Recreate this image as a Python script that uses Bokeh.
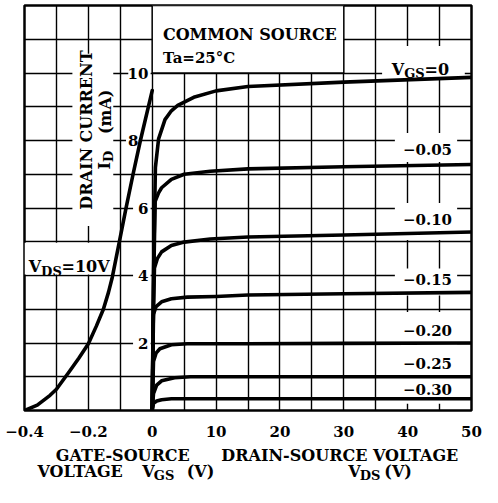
import numpy as np
from bokeh.plotting import figure
from bokeh.layouts import column
from bokeh.models import Label, FixedTicker, Range1d
from bokeh.embed import file_html
from bokeh.resources import INLINE

# ---------------- data ----------------
# transfer characteristic, VDS = 10 V
vgs_transfer = [-0.40, -0.36, -0.32, -0.30, -0.26, -0.23, -0.20, -0.175, -0.153,
                -0.137, -0.125, -0.105, -0.083, -0.06, -0.037, 0.0]
id_transfer = [0.0, 0.16, 0.45, 0.63, 1.15, 1.55, 1.98, 2.5, 3.0,
               3.5, 3.95, 4.9, 5.95, 7.0, 8.0, 9.48]

# output characteristics (VDS in V, ID in mA)
vds_0 = [0, 0.2, 0.5, 1.0, 2.0, 3.0, 4.0, 6.5, 10, 15, 30, 50]
id_0 = [0, 4.0, 7.2, 8.05, 8.62, 8.88, 9.04, 9.28, 9.47, 9.6, 9.73, 9.87]
vds_005 = [0, 0.2, 0.46, 1.0, 1.47, 3.0, 5.0, 9.1, 15, 30, 50]
id_005 = [0, 3.5, 6.2, 6.45, 6.6, 6.85, 7.0, 7.09, 7.16, 7.22, 7.29]
vds_010 = [0, 0.15, 0.35, 0.8, 1.47, 3.0, 5.0, 9.1, 15, 30, 50]
id_010 = [0, 2.5, 4.22, 4.5, 4.7, 4.89, 4.99, 5.08, 5.14, 5.2, 5.29]
vds_015 = [0, 0.2, 0.6, 1.47, 3.0, 5.5, 10, 15, 30, 50]
id_015 = [0, 2.85, 3.08, 3.22, 3.31, 3.36, 3.38, 3.42, 3.46, 3.5]
vds_020 = [0, 0.2, 0.6, 1.2, 3.0, 5.5, 15, 30, 50]
id_020 = [0, 1.45, 1.7, 1.83, 1.95, 1.98, 1.98, 1.99, 2.0]
vds_025 = [0, 0.2, 0.7, 1.47, 3.5, 6.0, 50]
id_025 = [0, 0.5, 0.75, 0.88, 0.97, 1.0, 1.0]
vds_030 = [0, 0.2, 0.7, 1.47, 3.0, 50]
id_030 = [0, 0.21, 0.28, 0.32, 0.35, 0.35]

curve_labels = ["−0.05", "−0.10", "−0.15", "−0.20", "−0.25", "−0.30"]
x_tick_values = [-4, -2, 0, 2, 4, 6, 8, 10]   # in grid cells
x_tick_labels = ["−0.4", "−0.2", "0", "10", "20", "30", "40", "50"]
y_tick_values = [2, 4, 6, 8, 10]
y_tick_labels = ["2", "4", "6", "8", "10"]

FONT = "DejaVu Serif"
W = 482

# one grid cell = 0.1 V of VGS on the left, 5 V of VDS on the right
def gx(v):
    return np.array(v, dtype=float) * 10.0

def dx(v):
    return np.array(v, dtype=float) / 5.0

p = figure(width=W, height=441, x_range=Range1d(-4, 10), y_range=Range1d(0, 12),
           output_backend="svg", toolbar_location=None, y_axis_location=None,
           min_border_left=24, min_border_right=11, min_border_top=5, min_border_bottom=31)
p.background_fill_color = "white"
p.border_fill_color = "white"
p.outline_line_color = "black"
p.outline_line_width = 2.5

p.xgrid.ticker = FixedTicker(ticks=list(range(-4, 11)))
p.ygrid.ticker = FixedTicker(ticks=list(range(0, 13)))
for g in (p.xgrid, p.ygrid):
    g.grid_line_color = "black"
    g.grid_line_width = 1.4
    g.grid_line_alpha = 1.0

ax = p.xaxis[0]
ax.ticker = FixedTicker(ticks=x_tick_values)
ax.major_label_overrides = {v: t for v, t in zip(x_tick_values, x_tick_labels)}
ax.axis_line_color = None
ax.major_tick_line_color = None
ax.minor_tick_line_color = None
ax.major_label_standoff = 9
ax.major_label_text_font = FONT
ax.major_label_text_font_style = "bold"
ax.major_label_text_font_size = "15px"
ax.major_label_text_color = "black"

# white blanking boxes (cover the grid behind texts)
boxes_l = [-2.5, 7.2, 7.6, 7.6, 7.6, 7.6, -4.0, -0.6, -0.6, -0.6, -0.82, -0.75]
boxes_r = [-1.22, 9.79, 9.55, 9.55, 9.55, 9.55, -1.05, -0.05, -0.05, -0.05, -0.42, -0.05]
boxes_b = [5.47, 9.85, 7.36, 5.05, 3.41, 0.2, 4.03, 1.7, 3.7, 5.7, 7.7, 9.7]
boxes_t = [10.57, 10.8, 8.22, 6.15, 4.21, 2.92, 4.97, 2.3, 4.3, 6.3, 8.3, 10.3]
p.quad(left=boxes_l, right=boxes_r, bottom=boxes_b, top=boxes_t,
       fill_color="white", line_color=None)
# header box
p.quad(left=[0], right=[6], bottom=[10], top=[12], fill_color="white",
       line_color="black", line_width=1.4)

LW = 3.6
p.line(gx(vgs_transfer), id_transfer, line_width=LW, color="black",
       line_join="round", line_cap="round")
for vx, iy in [(vds_0, id_0), (vds_005, id_005), (vds_010, id_010), (vds_015, id_015),
               (vds_020, id_020), (vds_025, id_025), (vds_030, id_030)]:
    p.line(dx(vx), iy, line_width=LW, color="black", line_join="round", line_cap="round")


def lab(fig, x, y, t, size=16, align="left", baseline="alphabetic", angle=0.0):
    fig.add_layout(Label(x=x, y=y, text=t, text_font=FONT, text_font_style="bold",
                         text_font_size=f"{size}px", text_align=align,
                         text_baseline=baseline, angle=angle, text_color="black"))


# y tick labels
y_lab_x = [-0.12, -0.12, -0.12, -0.43, -0.12]
for xv, yv, t in zip(y_lab_x, y_tick_values, y_tick_labels):
    lab(p, xv, yv, t, size=15, align="right", baseline="middle")

# curve labels
curve_label_y = [7.72, 5.65, 3.87, 2.38, 1.38, 0.63]
for yv, t in zip(curve_label_y, curve_labels):
    lab(p, 9.39, yv, t, size=15, align="right", baseline="middle")

# VGS = 0 label
lab(p, 7.5, 10.09, "V", size=16)
lab(p, 7.89, 10.0, "GS", size=13)
lab(p, 8.53, 10.09, "=0", size=16)

# header
lab(p, 0.335, 11.15, "COMMON SOURCE", size=16)
lab(p, 0.335, 10.43, "Ta=25°C", size=15)

# VDS = 10 V label
lab(p, -3.87, 4.27, "V", size=16)
lab(p, -3.48, 4.13, "DS", size=13)
lab(p, -2.84, 4.27, "=10V", size=16)

# y axis title (vertical)
lab(p, -2.07, 8.31, "DRAIN CURRENT", size=16, align="center", baseline="middle", angle=np.pi / 2)
lab(p, -1.46, 8.85, "(mA)", size=16, align="center", baseline="middle", angle=np.pi / 2)
lab(p, -1.48, 7.25, "I", size=16, align="center", baseline="middle", angle=np.pi / 2)
lab(p, -1.36, 7.53, "D", size=13, align="center", baseline="middle", angle=np.pi / 2)

# ---------- strip below for the axis titles (pixel-like coordinates) ----------
H2 = 44
q = figure(width=W, height=H2, x_range=Range1d(0, W), y_range=Range1d(H2, 0),
           output_backend="svg", toolbar_location=None, x_axis_location=None,
           y_axis_location=None, min_border=0)
q.outline_line_color = None
q.xgrid.visible = False
q.ygrid.visible = False
q.background_fill_color = "white"
q.border_fill_color = "white"

lab(q, 106, 14, "GATE-SOURCE", size=16, align="center")
lab(q, 14, 30, "VOLTAGE", size=16)
lab(q, 127, 30, "V", size=16)
lab(q, 139.5, 34, "GS", size=13)
lab(q, 175, 30, "(V)", size=16)
lab(q, 340, 14, "DRAIN-SOURCE VOLTAGE", size=16, align="center")
lab(q, 349, 30, "V", size=16)
lab(q, 361.5, 34, "DS", size=13)
lab(q, 388, 30, "(V)", size=16)

layout = column(p, q, spacing=0)
open("out.html", "w").write(file_html(layout, INLINE))
